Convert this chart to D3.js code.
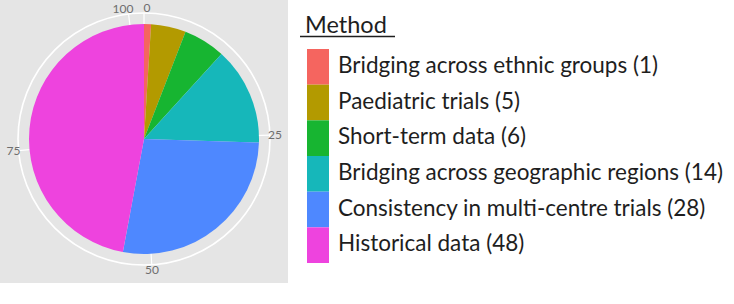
<!DOCTYPE html>
<meta charset="utf-8">
<script src="https://d3js.org/d3.v7.min.js"></script>
<style>
  body { margin: 0; background: #fff; }
  text { font-family: Lato, "Open Sans", sans-serif; }
</style>
<div id="my_dataviz"></div>
<script>

// data
var methods = ["Bridging across ethnic groups", "Paediatric trials", "Short-term data",
               "Bridging across geographic regions", "Consistency in multi-centre trials", "Historical data"];
var counts = [1, 5, 6, 14, 28, 48];
var colours = ["#F5655F", "#B39A00", "#17B531", "#16B7BA", "#4E88FF", "#EE43DE"];
var thetaTicks = [0, 25, 50, 75, 100];

var W = 734, H = 304;

var svg = d3.select("#my_dataviz")
  .append("svg")
    .attr("width", W)
    .attr("height", H);

// grey panel
svg.append("rect")
    .attr("x", 0).attr("y", 0)
    .attr("width", 288).attr("height", 283)
    .attr("fill", "#E5E5E5");

var cx = 144, cy = 139, r = 115, rGrid = 126;
var total = d3.sum(counts);

// theta scale in counts, as coord_polar does it
var theta = d3.scaleLinear()
    .domain([0, total])
    .range([0, 2 * Math.PI]);

var g = svg.append("g")
    .attr("transform", "translate(" + cx + "," + cy + ")");

// grid: outer circle and spokes
g.append("circle")
    .attr("r", rGrid)
    .attr("fill", "none")
    .attr("stroke", "#fff")
    .attr("stroke-width", 1.6);

g.selectAll(".spoke")
  .data(thetaTicks)
  .enter()
  .append("line")
    .attr("x1", 0).attr("y1", 0)
    .attr("x2", function(d) { return rGrid * Math.sin(theta(d)); })
    .attr("y2", function(d) { return -rGrid * Math.cos(theta(d)); })
    .attr("stroke", "#fff")
    .attr("stroke-width", 1.2);

// slices
var pie = d3.pie()
    .sort(null)
    .value(function(d) { return d; })
    .startAngle(theta(0))
    .endAngle(theta(total));

var arc = d3.arc()
    .innerRadius(0)
    .outerRadius(r);

g.selectAll(".slice")
  .data(pie(counts))
  .enter()
  .append("path")
    .attr("d", arc)
    .attr("fill", function(d, i) { return colours[i]; });

// theta tick labels
g.selectAll(".tick")
  .data(thetaTicks)
  .enter()
  .append("text")
    .attr("x", function(d) { return 131 * Math.sin(theta(d)) + (d == 100 ? -5 : (d == 0 ? 3 : 0)); })
    .attr("y", function(d) { return -131 * Math.cos(theta(d)); })
    .attr("dy", "0.35em")
    .attr("text-anchor", "middle")
    .attr("font-size", 12)
    .attr("fill", "#6e6e6e")
    .text(function(d) { return d; });

// legend
svg.append("text")
    .attr("x", 305).attr("y", 33)
    .attr("font-size", 23.5)
    .attr("fill", "#1e1e1e")
    .text("Method");
svg.append("line")
    .attr("x1", 300).attr("x2", 395)
    .attr("y1", 36.5).attr("y2", 36.5)
    .attr("stroke", "#1e1e1e")
    .attr("stroke-width", 1.3);

var ky = d3.scaleBand()
    .domain(methods)
    .range([49, 263]);

var lg = svg.selectAll(".key")
  .data(methods)
  .enter()
  .append("g");

lg.append("rect")
    .attr("x", 307)
    .attr("y", function(d) { return ky(d); })
    .attr("width", 22)
    .attr("height", ky.bandwidth())
    .attr("fill", function(d, i) { return colours[i]; });

lg.append("text")
    .attr("x", 338)
    .attr("y", function(d) { return ky(d) + ky.bandwidth() / 2 + 6; })
    .attr("font-size", 22.5)
    .attr("fill", "#1e1e1e")
    .text(function(d, i) { return d + " (" + counts[i] + ")"; });

</script>
</body>
</html>
